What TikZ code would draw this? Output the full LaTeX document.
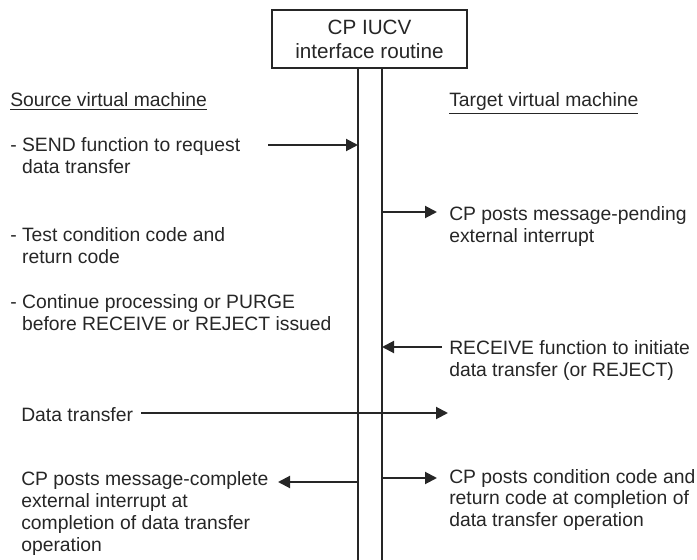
\documentclass[tikz,border=0pt]{standalone}
\usepackage{fontspec}
\setmainfont{Liberation Sans}
\usetikzlibrary{arrows.meta}
\definecolor{ink}{HTML}{262626}
\tikzset{
  txt/.style={anchor=base west, align=left, inner sep=0pt, text=ink,
    font=\fontsize{14.5}{16.3}\selectfont},
  msg/.style={draw=ink, line width=1.5pt, -{Triangle[length=9pt,width=9pt]}},
  wire/.style={draw=ink, line width=1.6pt},
}
\newcommand{\dsh}{\phantom{- }}
\begin{document}
\begin{tikzpicture}[x=0.75pt, y=-0.75pt]
\useasboundingbox (0,0) rectangle (697,560);
% interface routine and its two lines
\node[draw=ink, line width=1.5pt, minimum width=146pt, minimum height=43.5pt,
  align=center, text=ink, font=\fontsize{15.5}{18}\selectfont] (cp) at (369.5,39)
  {CP IUCV\\interface routine};
\coordinate (lw) at (358,560);
\coordinate (rw) at (382,560);
\draw[wire] (cp.south -| lw) -- (lw);
\draw[wire] (cp.south -| rw) -- (rw);
% headings
\node[txt] (src) at (10,107) {\underline{Source virtual machine}};
\node[txt] (tgt) at (449,107) {\underline{Target virtual machine}};
% source side (base = last line)
\node[txt] (send) at (10,173) {- SEND function to request\\\dsh data transfer};
\node[txt] (test) at (10,263.5) {- Test condition code and\\\dsh return code};
\node[txt] (cont) at (10,330) {- Continue processing or PURGE\\\dsh before RECEIVE or REJECT issued};
\node[txt] (data) at (21,421.5) {Data transfer};
\node[txt] (done) at (21,551) {CP posts message-complete\\external interrupt at\\completion of data transfer\\operation};
% target side
\node[txt] (pend) at (449,242.5) {CP posts message-pending\\external interrupt};
\node[txt] (recv) at (449,376) {RECEIVE function to initiate\\data transfer (or REJECT)};
\node[txt] (cond) at (449,526.5) {CP posts condition code and\\return code at completion of\\data transfer operation};
% arrow ends
\coordinate (sendtail) at (268,145);
\coordinate (pendtip) at (437,212);
\coordinate (recvtail) at (442,347);
\coordinate (datatail) at (141,413);
\coordinate (datatip) at (448,413);
\coordinate (donetip) at (278,482);
\coordinate (condtip) at (437,478);
\draw[msg] (sendtail) -- (sendtail -| lw);
\draw[msg] (pendtip -| rw) -- (pendtip);
\draw[msg] (recvtail) -- (recvtail -| rw);
\draw[msg] (datatail) -- (datatip);
\draw[msg] (donetip -| lw) -- (donetip);
\draw[msg] (condtip -| rw) -- (condtip);
\end{tikzpicture}
\end{document}
